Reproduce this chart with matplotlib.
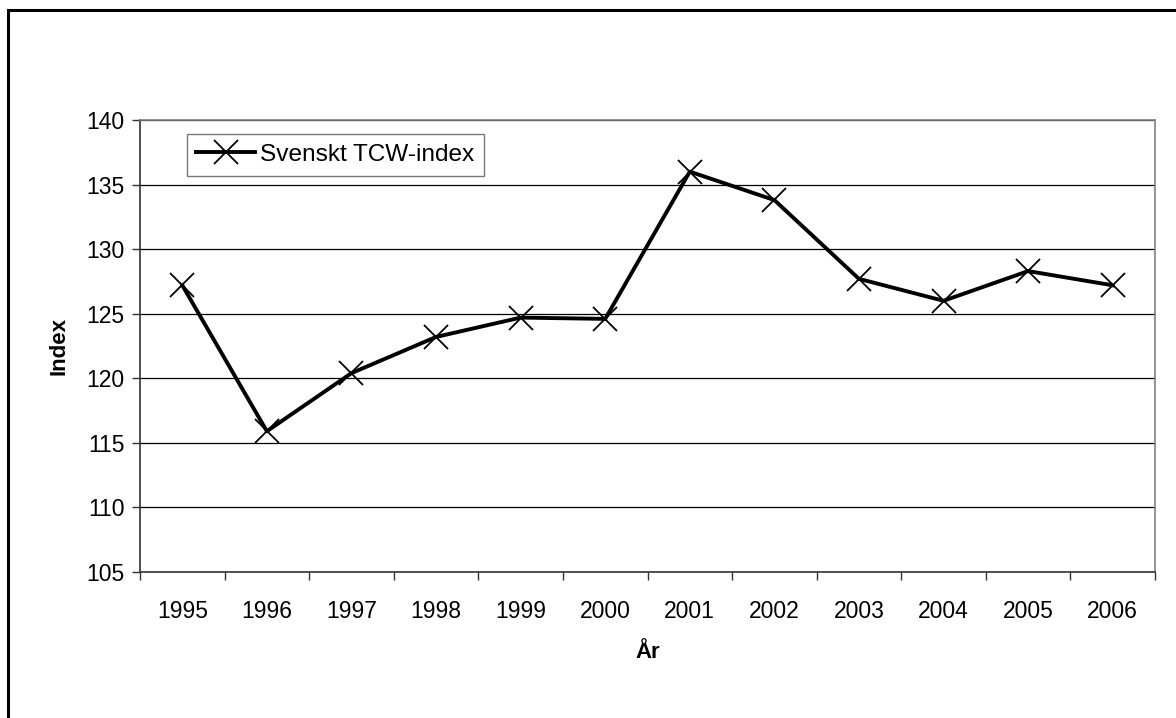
import matplotlib
matplotlib.use("Agg")
import matplotlib.pyplot as plt
from matplotlib.patches import Rectangle
import numpy as np

plt.rcParams['font.family'] = ['Liberation Sans', 'DejaVu Sans']

years = ['1995', '1996', '1997', '1998', '1999', '2000',
         '2001', '2002', '2003', '2004', '2005', '2006']
tcw_index = [127.2, 115.9, 120.4, 123.2, 124.7, 124.6,
             136.0, 133.8, 127.7, 126.0, 128.3, 127.2]

fig = plt.figure(figsize=(11.76, 7.18), dpi=100)
ax = fig.add_axes([140 / 1176, 1 - 572 / 718, 1015 / 1176, 452 / 718])

x = np.arange(len(years))
ax.plot(x, tcw_index, color='black', linewidth=2.8, marker='x',
        markersize=17, markeredgewidth=1.3, label='Svenskt TCW-index')

ax.set_xlim(-0.5, len(years) - 0.5)
ax.set_ylim(105, 140)
ax.set_yticks(np.arange(105, 141, 5))
ax.yaxis.grid(True, color='black', linewidth=0.9)
ax.set_axisbelow(True)

ax.set_xticks(x)
ax.set_xticklabels(years)
ax.set_xticks(np.arange(-0.5, len(years)), minor=True)
ax.tick_params(axis='x', which='major', length=0, pad=20, labelsize=16.5)
ax.tick_params(axis='x', which='minor', length=6, width=1, color='#333333')
ax.tick_params(axis='y', length=6, width=1, color='#333333', labelsize=16.5, pad=5)

for side in ['top', 'right']:
    ax.spines[side].set_color('#808080')
    ax.spines[side].set_linewidth(1.2)
for side in ['left', 'bottom']:
    ax.spines[side].set_color('#333333')
    ax.spines[side].set_linewidth(1.2)

ax.set_xlabel('År', fontsize=16, fontweight='bold', labelpad=14)
ax.set_ylabel('Index', fontsize=16, fontweight='bold', labelpad=12)

leg = ax.legend(loc='upper left', bbox_to_anchor=(0.046, 0.969), fontsize=17.6,
                frameon=True, fancybox=False, handlelength=2.4,
                handletextpad=0.2, borderpad=0.4, borderaxespad=0)
leg.get_frame().set_edgecolor('#555555')
leg.get_frame().set_linewidth(1.0)

# outer frame of the chart object
fig.patches.append(Rectangle((8 / 1176, -0.05), 1.1, 1 - 10 / 718 + 0.05,
                             transform=fig.transFigure, fill=False,
                             edgecolor='black', linewidth=2.2, clip_on=False))

fig.savefig('out.png', dpi=100, facecolor='white')
